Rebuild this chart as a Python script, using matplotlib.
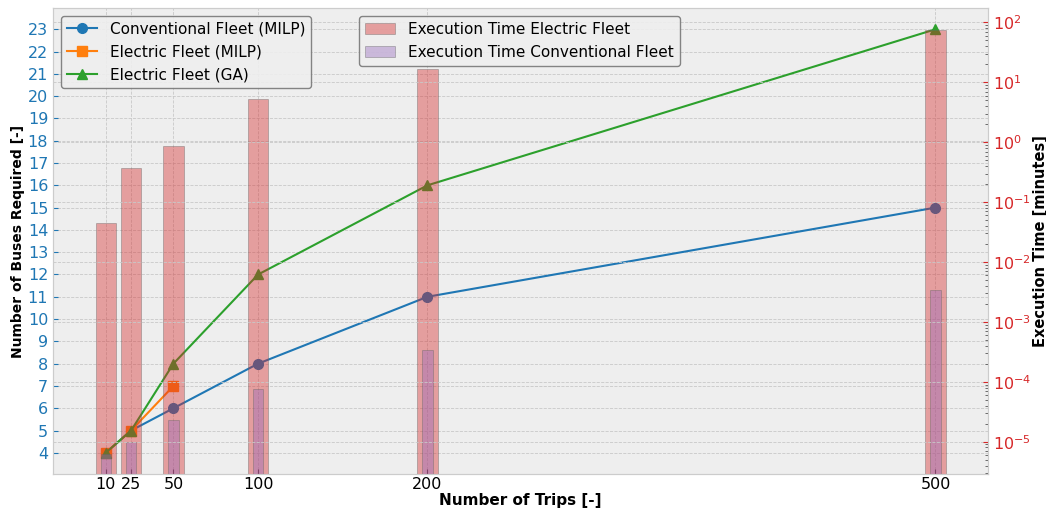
import matplotlib
matplotlib.use('Agg')
from matplotlib import pyplot as plt

trips = [10, 25, 50, 100, 200, 500]
conv_milp = [4, 5, 6, 8, 11, 15]
elec_milp_trips = [10, 25, 50]
elec_milp = [4, 5, 7]
elec_ga = [4, 5, 8, 12, 16, 23]

# execution times in minutes
time_electric = [0.0445, 0.37, 0.87, 5.2, 16.7, 75]
time_conventional = [6.3e-6, 9.7e-6, 2.3e-5, 7.7e-5, 3.4e-4, 3.4e-3]
time_ticks = [1e-5, 1e-4, 1e-3, 1e-2, 1e-1, 1e0, 1e1, 1e2]

plt.rcParams['font.size'] = 10
plt.rcParams['axes.edgecolor'] = '#cccccc'

fig = plt.figure(figsize=(10.46, 5.12), dpi=100)
ax1 = fig.add_axes([0.0507, 0.0742, 0.894, 0.91])
ax1.set_facecolor('#eeeeee')

l1, = ax1.plot(trips, conv_milp, color='tab:blue', marker='o', ms=7, lw=1.5,
               label='Conventional Fleet (MILP)')
l2, = ax1.plot(elec_milp_trips, elec_milp, color='tab:orange', marker='s', ms=7, lw=1.5,
               label='Electric Fleet (MILP)')
l3, = ax1.plot(trips, elec_ga, color='tab:green', marker='^', ms=7, lw=1.5,
               label='Electric Fleet (GA)')

ax1.set_xticks(trips)
ax1.set_yticks(range(4, 24))
ax1.tick_params(axis='y', colors='tab:blue', labelsize=11.5, direction='in')
ax1.tick_params(axis='x', labelsize=11.5, direction='in', colors='#333333', pad=2)
ax1.tick_params(axis='x', labelcolor='black')
ax1.set_xlabel('Number of Trips [-]', fontweight='bold', fontsize=11, labelpad=1)
ax1.set_ylabel('Number of Buses Required [-]', fontweight='bold', fontsize=10, labelpad=2)
ax1.grid(True, color='#c8c8c8', linestyle='--', linewidth=0.6)

ax2 = ax1.twinx()
b1 = ax2.bar(trips, time_electric, width=12, color='tab:red', alpha=0.4,
             edgecolor='#666666', linewidth=0.7, label='Execution Time Electric Fleet')
b2 = ax2.bar(trips, time_conventional, width=6, color='tab:purple', alpha=0.4,
             edgecolor='#666666', linewidth=0.7, label='Execution Time Conventional Fleet')
ax2.set_yscale('log')
ax2.set_yticks(time_ticks)
ax2.set_ylim(10 ** -5.54, 10 ** 2.24)
ax2.tick_params(axis='y', which='both', colors='tab:red', labelsize=11.5, direction='in')
ax2.tick_params(axis='y', which='minor', colors='#555555')
ax2.set_ylabel('Execution Time [minutes]', fontweight='bold', fontsize=10.5, labelpad=1)
ax2.grid(True, axis='y', color='#c8c8c8', linestyle='--', linewidth=0.6)
for sp in ax2.spines.values():
    sp.set_color('#cccccc')

leg1 = ax2.legend(handles=[l1, l2, l3], loc='upper left', fontsize=11,
                  facecolor='#eeeeee', edgecolor='#777777', framealpha=0.9)
ax2.add_artist(leg1)
ax2.legend(handles=[b1, b2], loc='upper left', bbox_to_anchor=(0.327, 0.983),
           borderaxespad=0, fontsize=11, facecolor='#eeeeee', edgecolor='#777777',
           framealpha=0.9)

fig.savefig('out.png', dpi=100)
